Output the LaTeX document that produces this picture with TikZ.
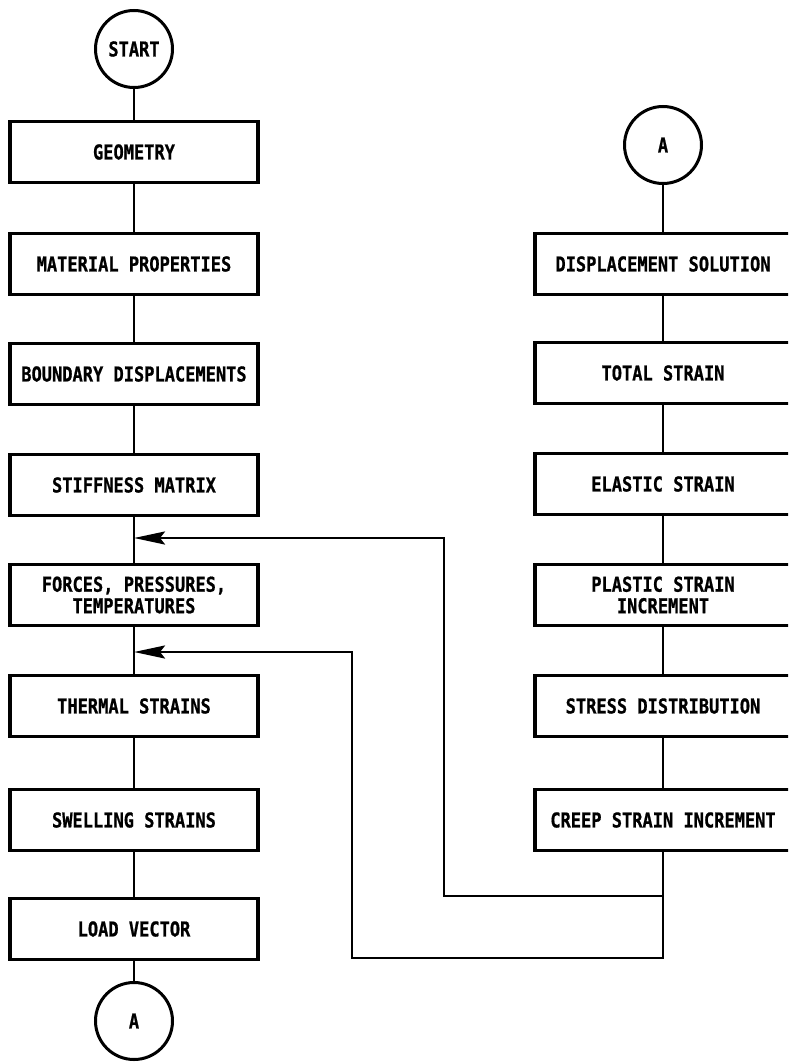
\documentclass[tikz,border=0pt]{standalone}
\usepackage{fontspec}
\newfontfamily\leroy{DejaVu Sans Mono}[FakeStretch=0.83, BoldFeatures={FakeBold=0.8}]
\usetikzlibrary{arrows.meta}
\tikzset{
	box/.style={draw, line width=3.2pt, minimum width=248pt, minimum height=61pt, align=center, font=\leroy\bfseries\fontsize{20.5}{21.5}\selectfont},
	wbox/.style={box, minimum width=256pt},
	term/.style={draw, circle, line width=3pt, minimum size=77pt, inner sep=0pt, font=\leroy\bfseries\fontsize{20.5}{21.5}\selectfont},
	link/.style={line width=2.8pt},
	feed/.style={line width=2.8pt, -{Stealth[length=31pt, width=13pt, inset=5pt]}},
}

\begin{document}
\begin{tikzpicture}[x=1pt, y=-1pt]
			%%%%% START %%%%%
			\clip (0, 0) rectangle (788, 1062);
			
			\node[term] (start) at (134, 49) {START};
			\node[box] (geom) at (134, 152) {GEOMETRY};
			\node[box] (matl) at (134, 264) {MATERIAL PROPERTIES};
			\node[box] (bound) at (134, 374) {BOUNDARY DISPLACEMENTS};
			\node[box] (stiff) at (134, 485) {STIFFNESS MATRIX};
			\node[box] (force) at (134, 595) {FORCES, PRESSURES,\\TEMPERATURES};
			\node[box] (therm) at (134, 706) {THERMAL STRAINS};
			\node[box] (swell) at (134, 820) {SWELLING STRAINS};
			\node[box] (load) at (134, 929) {LOAD VECTOR};
			\node[term] (outA) at (134, 1021) {A};
			
			\node[term] (inA) at (663, 145) {A};
			\node[wbox] (disp) at (663, 264) {DISPLACEMENT SOLUTION};
			\node[wbox] (total) at (663, 373) {TOTAL STRAIN};
			\node[wbox] (elast) at (663, 484) {ELASTIC STRAIN};
			\node[wbox] (plast) at (663, 595) {PLASTIC STRAIN\\INCREMENT};
			\node[wbox] (stress) at (663, 706) {STRESS DISTRIBUTION};
			\node[wbox] (creep) at (663, 820) {CREEP STRAIN INCREMENT};
			
			\draw[link] (start) -- (geom);
			\draw[link] (geom) -- (matl);
			\draw[link] (matl) -- (bound);
			\draw[link] (bound) -- (stiff);
			\draw[link] (stiff) -- (force);
			\draw[link] (force) -- (therm);
			\draw[link] (therm) -- (swell);
			\draw[link] (swell) -- (load);
			\draw[link] (load) -- (outA);
			
			\draw[link] (inA) -- (disp);
			\draw[link] (disp) -- (total);
			\draw[link] (total) -- (elast);
			\draw[link] (elast) -- (plast);
			\draw[link] (plast) -- (stress);
			\draw[link] (stress) -- (creep);
			
			% feedback from creep strain
			\coordinate (j1) at (134, 538);
			\coordinate (j2) at (134, 652);
			\draw[feed] (creep.south) |- (444, 896) |- (j1);
			\draw[feed] (creep.south) |- (352, 958) |- (j2);
			
			%%%%% END %%%%%
\end{tikzpicture}
\end{document}
